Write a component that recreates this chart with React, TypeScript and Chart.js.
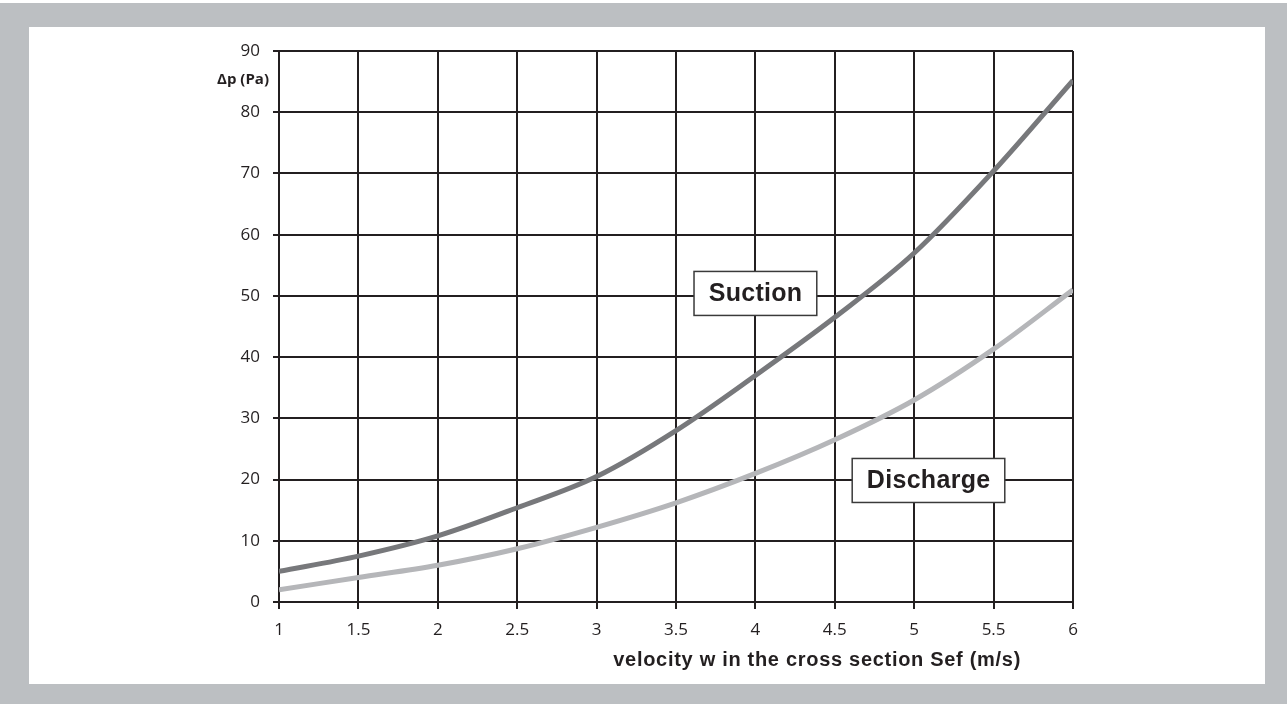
import React, { useEffect, useRef } from "react";
import { Chart, registerables } from "chart.js";

Chart.register(...registerables);

const velocity = [1, 1.5, 2, 2.5, 3, 3.5, 4, 4.5, 5, 5.5, 6];
const suction = [5, 7.5, 10.8, 15.4, 20.5, 28, 37, 46.5, 57, 70.4, 85.2];
const discharge = [2, 4, 6, 8.7, 12.2, 16.2, 21, 26.5, 33, 41.3, 51];

const seriesNames = ["Suction", "Discharge"];
const labelAnchorsX = [4.0, 5.09];
const labelAnchorsY = [50.4, 19.85];

const xTitle = "velocity w in the cross section Sef (m/s)";
const yTitle = "Δp (Pa)";

const INK = "#231f20";

const annotationPlugin = {
  id: "boxLabels",
  afterDatasetsDraw(chart: any) {
    const { ctx, scales } = chart;
    ctx.save();
    ctx.font = "bold 25px 'Liberation Sans', Arial, sans-serif";
    (ctx as any).letterSpacing = "0.3px";
    ctx.textAlign = "center";
    ctx.textBaseline = "middle";
    seriesNames.forEach((name, i) => {
      const cx = scales.x.getPixelForValue(labelAnchorsX[i]);
      const cy = scales.y.getPixelForValue(labelAnchorsY[i]);
      const w = ctx.measureText(name).width + 29;
      const h = 44;
      ctx.fillStyle = "#ffffff";
      ctx.fillRect(cx - w / 2, cy - h / 2, w, h);
      ctx.strokeStyle = "#3a3a3a";
      ctx.lineWidth = 1.5;
      ctx.strokeRect(cx - w / 2, cy - h / 2, w, h);
      ctx.fillStyle = INK;
      ctx.fillText(name, cx + 0.15, cy + 1);
    });
    ctx.restore();
  },
  afterDraw(chart: any) {
    const { ctx, chartArea } = chart;
    ctx.save();
    ctx.fillStyle = INK;
    ctx.font = "bold 20px 'Liberation Sans', Arial, sans-serif";
    (ctx as any).letterSpacing = "0.7px";
    ctx.textAlign = "right";
    ctx.textBaseline = "middle";
    ctx.fillText(xTitle, chartArea.right - 52, 660);
    (ctx as any).letterSpacing = "0px";
    ctx.font = "bold 15px 'Open Sans', sans-serif";
    ctx.textAlign = "right";
    ctx.fillText(yTitle, chartArea.left - 10, chartArea.top + 29);
    ctx.restore();
  },
};

export default function App() {
  const canvasRef = useRef<HTMLCanvasElement | null>(null);

  useEffect(() => {
    document.body.style.margin = "0";
    const canvas = canvasRef.current;
    if (!canvas) return;
    const chart = new Chart(canvas, {
      type: "line",
      data: {
        datasets: [
          {
            label: seriesNames[0],
            data: velocity.map((x, i) => ({ x, y: suction[i] })),
            borderColor: "#77787b",
            borderWidth: 5,
            pointRadius: 0,
            cubicInterpolationMode: "monotone",
            fill: false,
          },
          {
            label: seriesNames[1],
            data: velocity.map((x, i) => ({ x, y: discharge[i] })),
            borderColor: "#b5b6b9",
            borderWidth: 5,
            pointRadius: 0,
            cubicInterpolationMode: "monotone",
            fill: false,
          },
        ],
      },
      options: {
        animation: false,
        responsive: false,
        maintainAspectRatio: false,
        layout: { padding: { top: 51, right: 214, left: 0, bottom: 0 } },
        plugins: {
          legend: { display: false },
          tooltip: { enabled: false },
          title: { display: false },
        },
        scales: {
          x: {
            type: "linear",
            min: 1,
            max: 6,
            ticks: {
              stepSize: 0.5,
              autoSkip: false,
              maxRotation: 0,
              padding: 11,
              color: INK,
              font: { family: "'Open Sans', sans-serif", size: 17 },
              callback: (v: any) => String(v),
            },
            grid: { color: INK, lineWidth: 2, tickLength: 7, drawTicks: true },
            border: { color: INK, width: 2 },
            afterFit: (s: any) => {
              s.height = 102;
            },
          },
          y: {
            type: "linear",
            min: 0,
            max: 90,
            ticks: {
              stepSize: 10,
              padding: 13,
              color: INK,
              font: { family: "'Open Sans', sans-serif", size: 17 },
            },
            grid: { color: INK, lineWidth: 2, tickLength: 6, drawTicks: true },
            border: { color: INK, width: 2 },
            afterFit: (s: any) => {
              s.width = 279;
            },
          },
        },
      },
      plugins: [annotationPlugin],
    });
    return () => chart.destroy();
  }, []);

  return (
    <div style={{ position: "absolute", left: 0, top: 0, width: 1287, height: 704, background: "#ffffff" }}>
      <div style={{ position: "absolute", left: 0, top: 3, width: 1287, height: 701, background: "#bcbfc2" }} />
      <div style={{ position: "absolute", left: 29, top: 27, width: 1236, height: 657, background: "#ffffff" }} />
      <canvas
        ref={canvasRef}
        width={1287}
        height={704}
        style={{ position: "absolute", left: 0, top: 0, width: 1287, height: 704 }}
      />
    </div>
  );
}
